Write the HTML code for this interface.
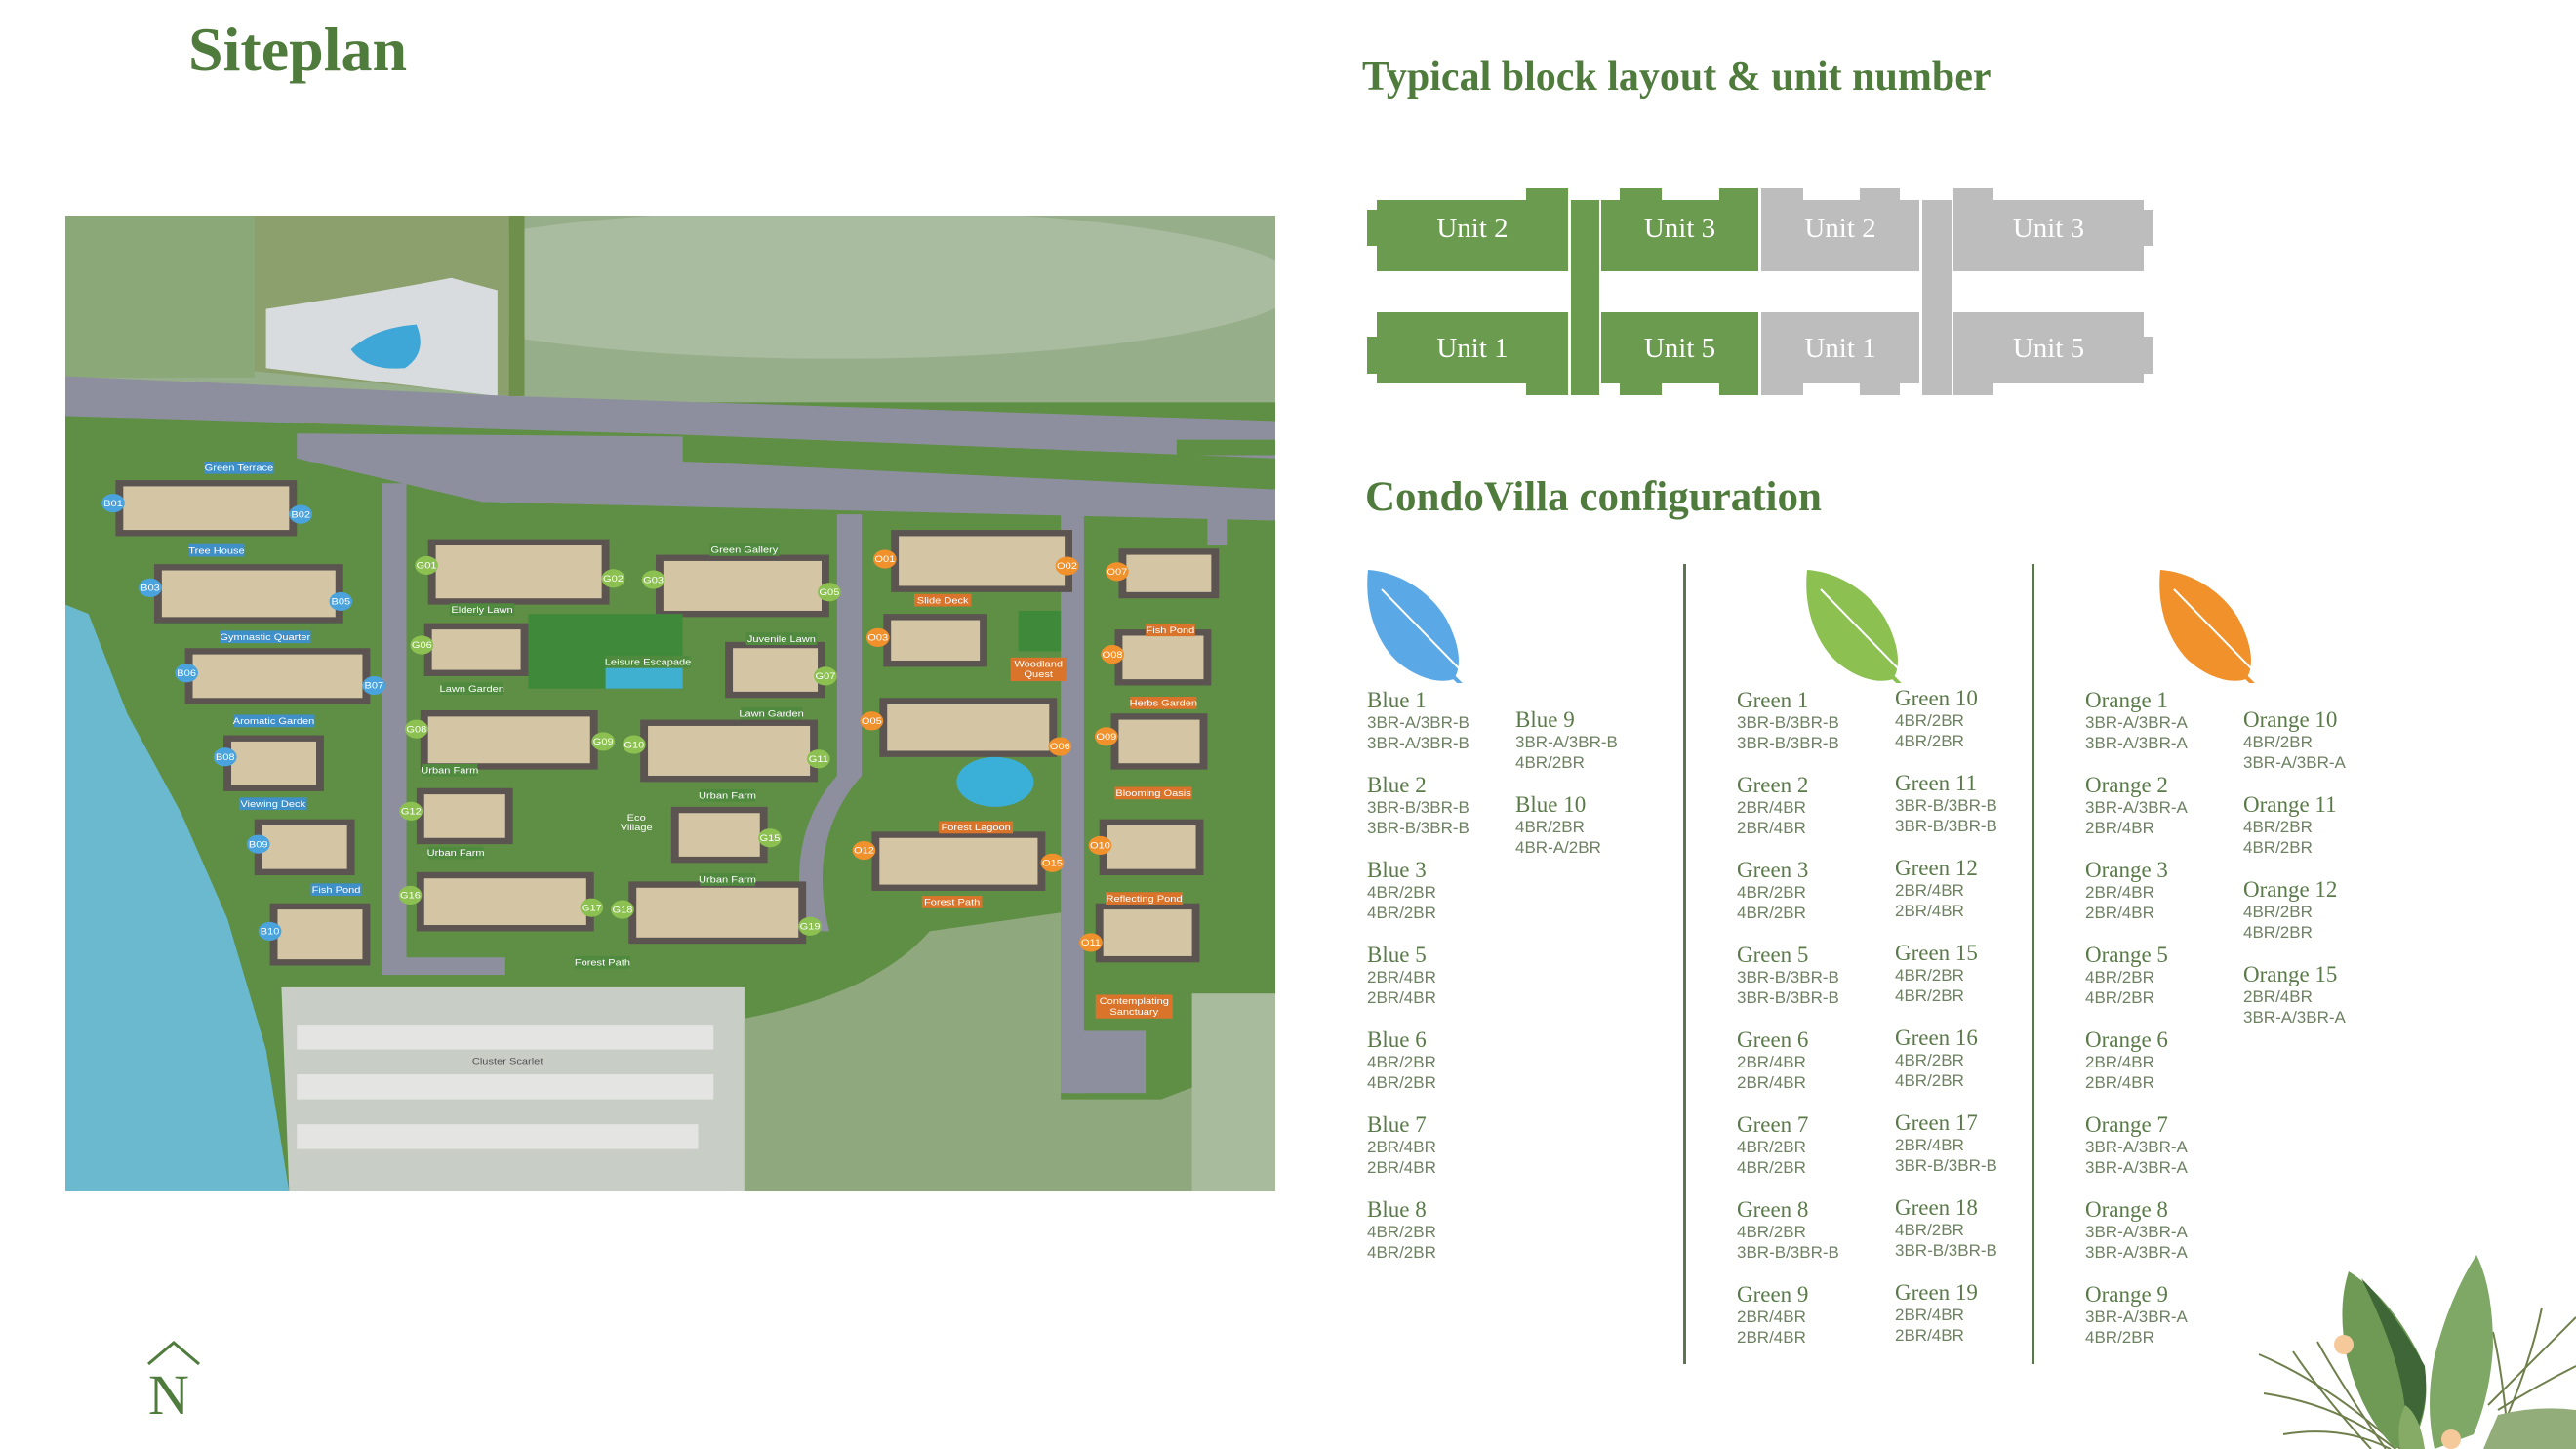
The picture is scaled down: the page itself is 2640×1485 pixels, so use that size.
<!DOCTYPE html>
<html><head><meta charset="utf-8"><style>
*{margin:0;padding:0;box-sizing:border-box}
body{width:2640px;height:1485px;background:#fff;position:relative;overflow:hidden;font-family:"Liberation Serif",serif}
.h{position:absolute;color:#4f7b3c;font-weight:bold;white-space:nowrap}
.b{position:absolute;white-space:nowrap}
.b .t{font-family:"Liberation Serif",serif;font-size:23px;color:#5b7a4a;line-height:24px}
.b .s{font-family:"Liberation Sans",sans-serif;font-size:17px;color:#6e8163;line-height:21px}
.u{position:absolute;font-size:29px;color:#fff;text-align:center;line-height:30px}
</style></head><body>
<div class="h" style="left:193px;top:14px;font-size:64px">Siteplan</div>
<div class="h" style="left:1396px;top:55px;font-size:42px">Typical block layout &amp; unit number</div>
<div class="h" style="left:1399px;top:485px;font-size:43px">CondoVilla configuration</div>

<!-- block layout -->
<svg style="position:absolute;left:0;top:0" width="2640" height="600">
<g fill="#6a9b4f">
<rect x="1411" y="205" width="196" height="73"/><rect x="1401" y="215" width="12" height="37"/><rect x="1564" y="193" width="43" height="14"/>
<rect x="1411" y="320" width="196" height="73"/><rect x="1401" y="345" width="12" height="38"/><rect x="1564" y="390" width="43" height="15"/>
<rect x="1610" y="205" width="29" height="200"/>
<rect x="1641" y="205" width="161" height="73"/><rect x="1660" y="193" width="43" height="14"/><rect x="1762" y="193" width="40" height="14"/>
<rect x="1641" y="320" width="161" height="73"/><rect x="1660" y="390" width="43" height="15"/><rect x="1762" y="390" width="40" height="15"/>
</g>
<g fill="#bdbdbd">
<rect x="1805" y="205" width="162" height="73"/><rect x="1805" y="193" width="43" height="14"/><rect x="1906" y="193" width="41" height="14"/>
<rect x="1805" y="320" width="162" height="73"/><rect x="1805" y="390" width="43" height="15"/><rect x="1906" y="390" width="41" height="15"/>
<rect x="1970" y="205" width="30" height="200"/>
<rect x="2002" y="205" width="195" height="73"/><rect x="2002" y="193" width="41" height="14"/><rect x="2195" y="215" width="12" height="37"/>
<rect x="2002" y="320" width="195" height="73"/><rect x="2002" y="390" width="41" height="15"/><rect x="2195" y="345" width="12" height="38"/>
</g></svg>
<div class="u" style="left:1411px;top:219px;width:196px">Unit 2</div>
<div class="u" style="left:1641px;top:219px;width:161px">Unit 3</div>
<div class="u" style="left:1805px;top:219px;width:162px">Unit 2</div>
<div class="u" style="left:2002px;top:219px;width:195px">Unit 3</div>
<div class="u" style="left:1411px;top:342px;width:196px">Unit 1</div>
<div class="u" style="left:1641px;top:342px;width:161px">Unit 5</div>
<div class="u" style="left:1805px;top:342px;width:162px">Unit 1</div>
<div class="u" style="left:2002px;top:342px;width:195px">Unit 5</div>

<!-- dividers -->
<div style="position:absolute;left:1725px;top:578px;width:3px;height:820px;background:#5d7550"></div>
<div style="position:absolute;left:2082px;top:578px;width:3px;height:820px;background:#5d7550"></div>

<!-- leaves -->
<svg style="position:absolute;left:0;top:570px" width="2640" height="130">
<defs><path id="lf" d="M0,0 C30,2 62,20 80,50 C95,78 96,100 88,112 C70,118 45,108 28,92 C8,72 -4,38 0,0 Z"/></defs>
<g transform="translate(1402,14)"><use href="#lf" fill="#5aa9e6"/><path d="M14,20 L96,104" stroke="#fff" stroke-width="2"/><path d="M86,108 L98,120" stroke="#5aa9e6" stroke-width="4"/></g>
<g transform="translate(1852,14)"><use href="#lf" fill="#8cc152"/><path d="M14,20 L96,104" stroke="#fff" stroke-width="2"/><path d="M86,108 L98,120" stroke="#8cc152" stroke-width="4"/></g>
<g transform="translate(2214,14)"><use href="#lf" fill="#f0912c"/><path d="M14,20 L96,104" stroke="#fff" stroke-width="2"/><path d="M86,108 L98,120" stroke="#f0912c" stroke-width="4"/></g>
</svg>

<!-- Blue -->
<div class="b" style="left:1401px;top:706px"><div class="t">Blue 1</div><div class="s">3BR-A/3BR-B<br>3BR-A/3BR-B</div></div>
<div class="b" style="left:1401px;top:793px"><div class="t">Blue 2</div><div class="s">3BR-B/3BR-B<br>3BR-B/3BR-B</div></div>
<div class="b" style="left:1401px;top:880px"><div class="t">Blue 3</div><div class="s">4BR/2BR<br>4BR/2BR</div></div>
<div class="b" style="left:1401px;top:967px"><div class="t">Blue 5</div><div class="s">2BR/4BR<br>2BR/4BR</div></div>
<div class="b" style="left:1401px;top:1054px"><div class="t">Blue 6</div><div class="s">4BR/2BR<br>4BR/2BR</div></div>
<div class="b" style="left:1401px;top:1141px"><div class="t">Blue 7</div><div class="s">2BR/4BR<br>2BR/4BR</div></div>
<div class="b" style="left:1401px;top:1228px"><div class="t">Blue 8</div><div class="s">4BR/2BR<br>4BR/2BR</div></div>
<div class="b" style="left:1553px;top:726px"><div class="t">Blue 9</div><div class="s">3BR-A/3BR-B<br>4BR/2BR</div></div>
<div class="b" style="left:1553px;top:813px"><div class="t">Blue 10</div><div class="s">4BR/2BR<br>4BR-A/2BR</div></div>
<!-- Green -->
<div class="b" style="left:1780px;top:706px"><div class="t">Green 1</div><div class="s">3BR-B/3BR-B<br>3BR-B/3BR-B</div></div>
<div class="b" style="left:1780px;top:793px"><div class="t">Green 2</div><div class="s">2BR/4BR<br>2BR/4BR</div></div>
<div class="b" style="left:1780px;top:880px"><div class="t">Green 3</div><div class="s">4BR/2BR<br>4BR/2BR</div></div>
<div class="b" style="left:1780px;top:967px"><div class="t">Green 5</div><div class="s">3BR-B/3BR-B<br>3BR-B/3BR-B</div></div>
<div class="b" style="left:1780px;top:1054px"><div class="t">Green 6</div><div class="s">2BR/4BR<br>2BR/4BR</div></div>
<div class="b" style="left:1780px;top:1141px"><div class="t">Green 7</div><div class="s">4BR/2BR<br>4BR/2BR</div></div>
<div class="b" style="left:1780px;top:1228px"><div class="t">Green 8</div><div class="s">4BR/2BR<br>3BR-B/3BR-B</div></div>
<div class="b" style="left:1780px;top:1315px"><div class="t">Green 9</div><div class="s">2BR/4BR<br>2BR/4BR</div></div>
<div class="b" style="left:1942px;top:704px"><div class="t">Green 10</div><div class="s">4BR/2BR<br>4BR/2BR</div></div>
<div class="b" style="left:1942px;top:791px"><div class="t">Green 11</div><div class="s">3BR-B/3BR-B<br>3BR-B/3BR-B</div></div>
<div class="b" style="left:1942px;top:878px"><div class="t">Green 12</div><div class="s">2BR/4BR<br>2BR/4BR</div></div>
<div class="b" style="left:1942px;top:965px"><div class="t">Green 15</div><div class="s">4BR/2BR<br>4BR/2BR</div></div>
<div class="b" style="left:1942px;top:1052px"><div class="t">Green 16</div><div class="s">4BR/2BR<br>4BR/2BR</div></div>
<div class="b" style="left:1942px;top:1139px"><div class="t">Green 17</div><div class="s">2BR/4BR<br>3BR-B/3BR-B</div></div>
<div class="b" style="left:1942px;top:1226px"><div class="t">Green 18</div><div class="s">4BR/2BR<br>3BR-B/3BR-B</div></div>
<div class="b" style="left:1942px;top:1313px"><div class="t">Green 19</div><div class="s">2BR/4BR<br>2BR/4BR</div></div>
<!-- Orange -->
<div class="b" style="left:2137px;top:706px"><div class="t">Orange 1</div><div class="s">3BR-A/3BR-A<br>3BR-A/3BR-A</div></div>
<div class="b" style="left:2137px;top:793px"><div class="t">Orange 2</div><div class="s">3BR-A/3BR-A<br>2BR/4BR</div></div>
<div class="b" style="left:2137px;top:880px"><div class="t">Orange 3</div><div class="s">2BR/4BR<br>2BR/4BR</div></div>
<div class="b" style="left:2137px;top:967px"><div class="t">Orange 5</div><div class="s">4BR/2BR<br>4BR/2BR</div></div>
<div class="b" style="left:2137px;top:1054px"><div class="t">Orange 6</div><div class="s">2BR/4BR<br>2BR/4BR</div></div>
<div class="b" style="left:2137px;top:1141px"><div class="t">Orange 7</div><div class="s">3BR-A/3BR-A<br>3BR-A/3BR-A</div></div>
<div class="b" style="left:2137px;top:1228px"><div class="t">Orange 8</div><div class="s">3BR-A/3BR-A<br>3BR-A/3BR-A</div></div>
<div class="b" style="left:2137px;top:1315px"><div class="t">Orange 9</div><div class="s">3BR-A/3BR-A<br>4BR/2BR</div></div>
<div class="b" style="left:2299px;top:726px"><div class="t">Orange 10</div><div class="s">4BR/2BR<br>3BR-A/3BR-A</div></div>
<div class="b" style="left:2299px;top:813px"><div class="t">Orange 11</div><div class="s">4BR/2BR<br>4BR/2BR</div></div>
<div class="b" style="left:2299px;top:900px"><div class="t">Orange 12</div><div class="s">4BR/2BR<br>4BR/2BR</div></div>
<div class="b" style="left:2299px;top:987px"><div class="t">Orange 15</div><div class="s">2BR/4BR<br>3BR-A/3BR-A</div></div>

<!-- North -->
<svg style="position:absolute;left:148px;top:1372px" width="60" height="30"><path d="M4,26 L30,4 L56,26" fill="none" stroke="#4f7b3c" stroke-width="3"/></svg>
<div class="h" style="left:152px;top:1400px;font-size:58px;font-weight:normal;line-height:60px">N</div>

<!-- plants -->
<svg style="position:absolute;left:2280px;top:1270px" width="360" height="215" viewBox="0 0 360 215">
<g stroke="#6f7f4c" stroke-width="2" fill="none">
<path d="M35,118 Q110,150 180,215"/><path d="M40,158 Q120,170 175,215"/><path d="M60,200 Q120,190 170,215"/><path d="M70,115 Q100,160 150,215"/><path d="M95,105 Q120,150 165,215"/>
<path d="M360,80 Q320,120 270,170"/><path d="M325,70 Q315,120 290,180"/><path d="M360,130 Q320,150 280,175"/><path d="M275,95 Q285,140 290,200"/>
</g>
<path d="M127,33 Q170,60 200,120 Q215,160 195,205 L175,215 Q140,180 125,120 Q115,70 127,33Z" fill="#6f9a55"/>
<path d="M140,40 Q175,75 205,130 Q210,170 195,200 L185,200 Q190,140 140,40Z" fill="#3f6636"/>
<path d="M258,16 Q275,50 275,110 Q272,160 255,200 L215,215 Q205,170 215,120 Q230,60 258,16Z" fill="#7fa866"/>
<path d="M280,180 Q320,170 360,175 L360,215 L265,215Z" fill="#93ad7a"/>
<path d="M185,170 Q200,180 205,215 L180,215 Q175,190 185,170Z" fill="#85ab66"/>
<circle cx="122" cy="108" r="10" fill="#f5c99a"/><circle cx="232" cy="205" r="10" fill="#f5c99a"/>
</svg>

<!-- site plan -->
<svg style="position:absolute;left:67px;top:221px" width="1240" height="1000" viewBox="0 0 1568 1568" preserveAspectRatio="none" font-family="Liberation Sans, sans-serif">
<rect width="1568" height="1568" fill="#5f8f45"/>
<rect width="1568" height="300" fill="#97ae8b"/>
<ellipse cx="1000" cy="110" rx="600" ry="120" fill="#a9bc9f"/>
<rect x="0" y="0" width="245" height="260" fill="#8aa878"/>
<path d="M245,0 L575,0 L575,290 L245,250Z" fill="#8ca06e"/>
<path d="M260,150 Q420,120 500,100 L560,120 L560,290 L260,245Z" fill="#d8dcde"/>
<path d="M370,215 Q400,180 455,175 Q470,220 440,245 Q390,250 370,215Z" fill="#3fa6d8"/>
<path d="M575,0 L595,0 L595,290 L575,290Z" fill="#6f8f4c"/>
<!-- roads -->
<path d="M0,258 L580,290 L1568,330 L1568,390 L800,352 L0,322Z" fill="#8e8f9e"/>
<path d="M300,350 L800,355 L800,395 L1568,440 L1568,490 L540,460 L300,390Z" fill="#8e8f9e"/>
<path d="M1440,360 L1568,360 L1568,385 L1440,385Z" fill="#5f8f45"/>
<g fill="#8e8f9e">
<rect x="410" y="430" width="32" height="790"/><rect x="410" y="1192" width="160" height="28"/>
<path d="M1000,480 L1032,480 L1032,900 Q960,1000 990,1150 L960,1150 Q930,1000 1000,900Z"/>
<rect x="1290" y="470" width="30" height="940"/><rect x="1300" y="1310" width="100" height="100"/>
<rect x="1480" y="470" width="25" height="60"/>
</g>
<!-- water -->
<path d="M0,625 L30,640 L80,800 L150,960 L210,1130 L260,1340 L290,1568 L0,1568Z" fill="#6ab9cf"/>
<!-- misty areas -->
<path d="M280,1240 L880,1240 L880,1568 L290,1568Z" fill="#c8cdc6"/>
<path d="M1120,1150 L1290,1120 L1290,1420 L1420,1420 L1568,1350 L1568,1568 L880,1568 L880,1290 Q1050,1250 1120,1150Z" fill="#8fa87e"/>
<rect x="1460" y="1250" width="108" height="318" fill="#a8bb9c"/>
<g fill="#e4e4e2">
<rect x="300" y="1300" width="540" height="40"/><rect x="300" y="1380" width="540" height="40"/><rect x="300" y="1460" width="520" height="40"/>
</g>
<!-- buildings -->
<g fill="#d4c6a4" stroke="#5b5450" stroke-width="10">
<rect x="70" y="430" width="225" height="80"/><rect x="120" y="565" width="235" height="85"/><rect x="160" y="700" width="230" height="80"/><rect x="210" y="840" width="120" height="80"/><rect x="250" y="975" width="120" height="80"/><rect x="270" y="1110" width="120" height="90"/>
<rect x="475" y="525" width="225" height="95"/><rect x="770" y="550" width="215" height="90"/><rect x="470" y="660" width="125" height="75"/><rect x="860" y="690" width="120" height="80"/><rect x="465" y="800" width="220" height="85"/><rect x="750" y="815" width="220" height="90"/><rect x="460" y="925" width="115" height="80"/><rect x="790" y="955" width="115" height="80"/><rect x="460" y="1060" width="220" height="85"/><rect x="735" y="1075" width="220" height="90"/>
<rect x="1075" y="510" width="225" height="90"/><rect x="1370" y="540" width="120" height="70"/><rect x="1065" y="645" width="125" height="75"/><rect x="1365" y="670" width="115" height="80"/><rect x="1060" y="780" width="220" height="85"/><rect x="1360" y="805" width="115" height="80"/><rect x="1050" y="995" width="215" height="85"/><rect x="1345" y="975" width="125" height="80"/><rect x="1340" y="1110" width="125" height="85"/>
</g>
<rect x="600" y="640" width="200" height="120" fill="#3f8a3a"/>
<rect x="700" y="720" width="100" height="40" fill="#3fb0d0"/>
<ellipse cx="1205" cy="910" rx="50" ry="40" fill="#3ab0d8"/>
<rect x="1235" y="635" width="55" height="65" fill="#3f8a3a"/>
<!-- badges -->
<g font-size="14" text-anchor="middle" fill="#fff">
<g fill="#4aa3dd"><circle cx="62" cy="462" r="15"/><circle cx="305" cy="480" r="15"/><circle cx="110" cy="598" r="15"/><circle cx="357" cy="620" r="15"/><circle cx="157" cy="735" r="15"/><circle cx="400" cy="755" r="15"/><circle cx="207" cy="870" r="15"/><circle cx="250" cy="1010" r="15"/><circle cx="265" cy="1150" r="15"/></g>
<g fill="#8cc152"><circle cx="468" cy="562" r="15"/><circle cx="710" cy="583" r="15"/><circle cx="762" cy="585" r="15"/><circle cx="990" cy="605" r="15"/><circle cx="462" cy="690" r="15"/><circle cx="985" cy="740" r="15"/><circle cx="455" cy="825" r="15"/><circle cx="697" cy="845" r="15"/><circle cx="737" cy="850" r="15"/><circle cx="976" cy="873" r="15"/><circle cx="448" cy="957" r="15"/><circle cx="913" cy="1000" r="15"/><circle cx="447" cy="1092" r="15"/><circle cx="682" cy="1112" r="15"/><circle cx="722" cy="1115" r="15"/><circle cx="965" cy="1142" r="15"/></g>
<g fill="#f0912c"><circle cx="1062" cy="552" r="15"/><circle cx="1298" cy="563" r="15"/><circle cx="1363" cy="572" r="15"/><circle cx="1053" cy="678" r="15"/><circle cx="1357" cy="705" r="15"/><circle cx="1045" cy="812" r="15"/><circle cx="1289" cy="853" r="15"/><circle cx="1349" cy="837" r="15"/><circle cx="1035" cy="1020" r="15"/><circle cx="1279" cy="1040" r="15"/><circle cx="1341" cy="1012" r="15"/><circle cx="1329" cy="1168" r="15"/></g>
<text x="62" y="467">B01</text><text x="305" y="485">B02</text><text x="110" y="603">B03</text><text x="357" y="625">B05</text><text x="157" y="740">B06</text><text x="400" y="760">B07</text><text x="207" y="875">B08</text><text x="250" y="1015">B09</text><text x="265" y="1155">B10</text>
<text x="468" y="567">G01</text><text x="710" y="588">G02</text><text x="762" y="590">G03</text><text x="990" y="610">G05</text><text x="462" y="695">G06</text><text x="985" y="745">G07</text><text x="455" y="830">G08</text><text x="697" y="850">G09</text><text x="737" y="855">G10</text><text x="976" y="878">G11</text><text x="448" y="962">G12</text><text x="913" y="1005">G15</text><text x="447" y="1097">G16</text><text x="682" y="1117">G17</text><text x="722" y="1120">G18</text><text x="965" y="1147">G19</text>
<text x="1062" y="557">O01</text><text x="1298" y="568">O02</text><text x="1363" y="577">O07</text><text x="1053" y="683">O03</text><text x="1357" y="710">O08</text><text x="1045" y="817">O05</text><text x="1289" y="858">O06</text><text x="1349" y="842">O09</text><text x="1035" y="1025">O12</text><text x="1279" y="1045">O15</text><text x="1341" y="1017">O10</text><text x="1329" y="1173">O11</text>
</g>
<!-- labels -->
<g font-size="14" text-anchor="middle">
<g fill="#3f8fc9"><rect x="180" y="395" width="90" height="20"/><rect x="160" y="528" width="72" height="20"/><rect x="200" y="667" width="118" height="20"/><rect x="218" y="802" width="105" height="20"/><rect x="225" y="935" width="88" height="20"/><rect x="318" y="1073" width="66" height="20"/></g>
<g fill="#4f8a3e"><rect x="835" y="527" width="90" height="20"/><rect x="498" y="623" width="84" height="20"/><rect x="882" y="670" width="92" height="20"/><rect x="700" y="707" width="110" height="20"/><rect x="487" y="750" width="80" height="20"/><rect x="875" y="790" width="80" height="20"/><rect x="462" y="881" width="72" height="20"/><rect x="822" y="922" width="72" height="20"/><rect x="470" y="1014" width="72" height="20"/><rect x="822" y="1057" width="72" height="20"/><rect x="660" y="1190" width="72" height="20"/></g>
<g fill="#d9742a"><rect x="1100" y="608" width="74" height="20"/><rect x="1225" y="710" width="72" height="38"/><rect x="1400" y="656" width="64" height="20"/><rect x="1380" y="773" width="86" height="20"/><rect x="1360" y="918" width="100" height="20"/><rect x="1132" y="973" width="96" height="20"/><rect x="1348" y="1087" width="100" height="20"/><rect x="1110" y="1093" width="78" height="20"/><rect x="1335" y="1252" width="100" height="38"/></g>
<g fill="#fff">
<text x="225" y="410">Green Terrace</text><text x="196" y="543">Tree House</text><text x="259" y="682">Gymnastic Quarter</text><text x="270" y="817">Aromatic Garden</text><text x="269" y="950">Viewing Deck</text><text x="351" y="1088">Fish Pond</text>
<text x="880" y="542">Green Gallery</text><text x="540" y="638">Elderly Lawn</text><text x="928" y="685">Juvenile Lawn</text><text x="755" y="722">Leisure Escapade</text><text x="527" y="765">Lawn Garden</text><text x="915" y="805">Lawn Garden</text><text x="498" y="896">Urban Farm</text><text x="858" y="937">Urban Farm</text><text x="506" y="1029">Urban Farm</text><text x="858" y="1072">Urban Farm</text><text x="740" y="972">Eco</text><text x="740" y="988">Village</text><text x="696" y="1205">Forest Path</text>
<text x="1137" y="623">Slide Deck</text><text x="1261" y="725">Woodland</text><text x="1261" y="742">Quest</text><text x="1432" y="671">Fish Pond</text><text x="1423" y="788">Herbs Garden</text><text x="1410" y="933">Blooming Oasis</text><text x="1180" y="988">Forest Lagoon</text><text x="1398" y="1102">Reflecting Pond</text><text x="1149" y="1108">Forest Path</text><text x="1385" y="1267">Contemplating</text><text x="1385" y="1284">Sanctuary</text>
</g>
<text x="573" y="1363" fill="#555">Cluster Scarlet</text>
</g>
</svg>
</body></html>
